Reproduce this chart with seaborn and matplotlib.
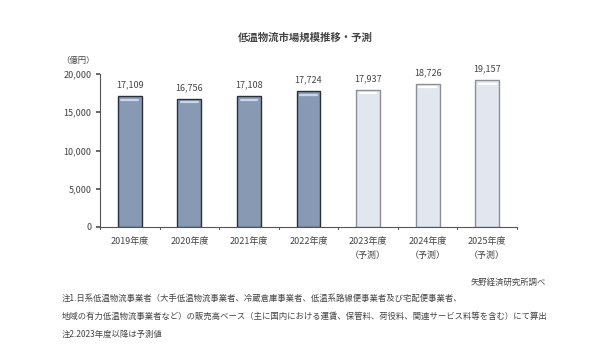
import matplotlib
matplotlib.use("Agg")
import matplotlib.pyplot as plt
import seaborn as sns
import pandas as pd

# --- data ---
years = ["2019年度", "2020年度", "2021年度", "2022年度",
         "2023年度\n（予測）", "2024年度\n（予測）", "2025年度\n（予測）"]
values = [17109, 16756, 17108, 17724, 17937, 18726, 19157]
kind = ["実績", "実績", "実績", "実績", "予測", "予測", "予測"]
yticks = [0, 5000, 10000, 15000, 20000]

df = pd.DataFrame({"year": years, "value": values, "kind": kind})

sns.set_theme(style="white")
plt.rcParams["font.family"] = ["Noto Sans CJK JP", "DejaVu Sans"]

fig = plt.figure(figsize=(6.0, 3.59), dpi=100)
ax = fig.add_axes([100 / 600, 1 - 227 / 359, 417 / 600, 153 / 359])

palette = {"実績": "#8799B3", "予測": "#E1E6EF"}
sns.barplot(data=df, x="year", y="value", hue="kind", palette=palette,
            width=0.4, dodge=False, legend=False, ax=ax, saturation=1)

edges = {"実績": "#2B2F38", "予測": "#8C8F96"}
highlight = {"実績": "#C9D6EA", "予測": "#FFFFFF"}
for patch, k in zip(ax.patches, kind):
    patch.set_edgecolor(edges[k])
    patch.set_linewidth(1.0)
    # light stripe near the top of each bar
    x0, w, h = patch.get_x(), patch.get_width(), patch.get_height()
    ax.plot([x0 + w * 0.15, x0 + w * 0.85], [h - 450, h - 450],
            color=highlight[k], lw=1.6, solid_capstyle="round")

for i, v in enumerate(values):
    ax.text(i, v + 900, f"{v:,}", ha="center", va="bottom",
            fontsize=6.5, color="#444444")

ax.set_ylim(0, 20000)
ax.set_xlim(-0.5, len(years) - 0.5)
ax.set_yticks(yticks)
ax.set_yticklabels([f"{t:,}" for t in yticks], fontsize=6.5, color="#444444")
ax.set_xticks(range(len(years)))
ax.set_xticklabels(years, fontsize=6.5, color="#444444", linespacing=1.8)
ax.tick_params(axis="x", length=0, pad=7)
ax.tick_params(axis="y", length=3, color="#555555", left=True, pad=3)
for b in range(len(years) + 1):
    ax.plot([b - 0.5, b - 0.5], [0, -250], color="#555555", lw=0.8, clip_on=False)
ax.set_xlabel("")
ax.set_ylabel("")
for s in ["top", "right"]:
    ax.spines[s].set_visible(False)
ax.spines["left"].set_color("#555555")
ax.spines["bottom"].set_color("#555555")
ax.spines["left"].set_linewidth(0.8)
ax.spines["bottom"].set_linewidth(0.8)

fig.text(305 / 600, 1 - 38 / 359, "低温物流市場規模推移・予測", ha="center", va="center",
         fontsize=7.5, color="#444444", fontweight="bold")
fig.text(78 / 600, 1 - 60 / 359, "（億円）", ha="center", va="center",
         fontsize=6, color="#444444")
fig.text(546 / 600, 1 - 282 / 359, "矢野経済研究所調べ", ha="right", va="center",
         fontsize=6, color="#444444")
notes = [
    "注1.日系低温物流事業者（大手低温物流事業者、冷蔵倉庫事業者、低温系路線便事業者及び宅配便事業者、",
    "地域の有力低温物流事業者など）の販売高ベース（主に国内における運賃、保管料、荷役料、関連サービス料等を含む）にて算出",
    "注2.2023年度以降は予測値",
]
for j, line in enumerate(notes):
    fig.text(62 / 600, 1 - (298 + 18 * j) / 359, line, ha="left", va="center",
             fontsize=6, color="#444444")

fig.savefig("out.png", dpi=100)
